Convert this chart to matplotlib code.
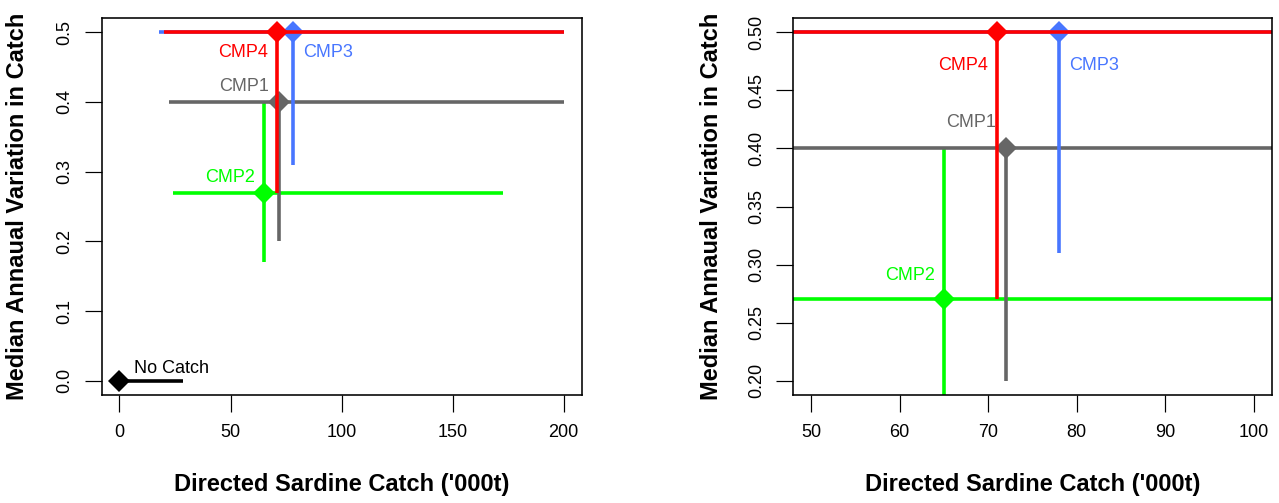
import matplotlib
matplotlib.use("Agg")
import matplotlib.pyplot as plt

plt.rcParams['font.family'] = ['Liberation Sans', 'DejaVu Sans']

# ---- data ----
cmp_names = ['CMP1', 'CMP2', 'CMP3', 'CMP4']
catch_med = [72, 65, 78, 71]
catch_lo = [22.5, 24.0, 17.6, 20.2]
catch_hi = [200.0, 172.7, 200.0, 200.0]
aav_med = [0.40, 0.27, 0.50, 0.50]
aav_lo = [0.20, 0.17, 0.31, 0.27]
aav_hi = [0.40, 0.40, 0.50, 0.50]

nocatch_label = 'No Catch'
nocatch_catch = [0.0]
nocatch_aav = [0.0]
nocatch_catch_hi = [28.8]

left_xticks = [0, 50, 100, 150, 200]
left_yticks = [0.0, 0.1, 0.2, 0.3, 0.4, 0.5]
left_yticklabels = ['0.0', '0.1', '0.2', '0.3', '0.4', '0.5']
right_xticks = [50, 60, 70, 80, 90, 100]
right_yticks = [0.20, 0.25, 0.30, 0.35, 0.40, 0.45, 0.50]
right_yticklabels = ['0.20', '0.25', '0.30', '0.35', '0.40', '0.45', '0.50']

xlabel = "Directed Sardine Catch ('000t)"
ylabel = "Median Annaual Variation in Catch"

# ---- styles ----
colors = {'CMP1': '#666666', 'CMP2': '#00FF00', 'CMP3': '#4876FF', 'CMP4': '#FF0000'}
draw_order = ['CMP2', 'CMP1', 'CMP3', 'CMP4']
# label offsets: x in pixels, y in data units
lab_dx_px = {'CMP1': -35, 'CMP2': -33.5, 'CMP3': 35, 'CMP4': -34}
lab_dy = {'CMP1': 0.022, 'CMP2': 0.021, 'CMP3': -0.029, 'CMP4': -0.029}

DPI = 100
PX = 72.0 / DPI
LW = 3.6 * PX
MS = 11
FS_TICK = 13
FS_TEXT = 13
FS_LAB = 17

fig = plt.figure(figsize=(12.79, 5.03), dpi=DPI)
W, H = 1279.0, 503.0
ax1 = fig.add_axes([101.7 / W, (H - 394.7) / H, 479.8 / W, 376.4 / H])
ax2 = fig.add_axes([793.3 / W, (H - 394.7) / H, 478.4 / W, 376.4 / H])


def draw(ax, with_nocatch):
    for k, name in enumerate(draw_order):
        i = cmp_names.index(name)
        c = colors[name]
        zl = 2 + 2 * k
        ax.plot([catch_lo[i], catch_hi[i]], [aav_med[i], aav_med[i]],
                color=c, lw=LW, solid_capstyle='butt', zorder=zl)
        ax.plot([catch_med[i], catch_med[i]], [aav_lo[i], aav_hi[i]],
                color=c, lw=LW, solid_capstyle='butt', zorder=zl)
        ax.plot([catch_med[i]], [aav_med[i]], marker='D', ms=MS,
                color=c, mec=c, mew=0, zorder=zl + 1, clip_on=True)
        ax.annotate(name, xy=(catch_med[i], aav_med[i] + lab_dy[name]),
                    xytext=(lab_dx_px[name] * PX, 0), textcoords='offset points',
                    ha='center', va='center', color=c, fontsize=FS_TEXT,
                    annotation_clip=False, zorder=20)
    if with_nocatch:
        ax.plot([nocatch_catch[0], nocatch_catch_hi[0]], [nocatch_aav[0], nocatch_aav[0]],
                color='black', lw=LW, solid_capstyle='butt', zorder=12)
        ax.plot(nocatch_catch, nocatch_aav, marker='D', ms=MS, color='black',
                mew=0, zorder=13)
        ax.annotate(nocatch_label, xy=(nocatch_catch[0], nocatch_aav[0]),
                    xytext=(52 * PX, 12.3 * PX), textcoords='offset points',
                    ha='center', va='center', color='black', fontsize=FS_TEXT)


def style(ax, xticks, yticks, yticklabels, xlim, ylim):
    ax.set_xlim(*xlim)
    ax.set_ylim(*ylim)
    ax.set_xticks(xticks)
    ax.set_xticklabels([str(t) for t in xticks])
    ax.set_yticks(yticks)
    ax.set_yticklabels(yticklabels, rotation=90, va='center')
    ax.tick_params(direction='out', length=17 * PX, width=1.2 * PX,
                   labelsize=FS_TICK, color='black')
    ax.tick_params(axis='y', pad=11 * PX)
    ax.tick_params(axis='x', pad=12 * PX)
    for s in ax.spines.values():
        s.set_linewidth(1.6 * PX)
        s.set_color('black')
        s.set_zorder(30)
    ax.set_xlabel(xlabel, fontsize=FS_LAB, fontweight='bold')
    ax.set_ylabel(ylabel, fontsize=FS_LAB, fontweight='bold')
    ax.xaxis.set_label_coords(0.5, (394.7 - 484.0) / 376.4)
    ax.xaxis.label.set_va('center')
    ax.yaxis.label.set_va('center')


draw(ax1, True)
style(ax1, left_xticks, left_yticks, left_yticklabels, (-8, 208), (-0.02, 0.52))
ax1.yaxis.set_label_coords((17.5 - 101.7) / 479.8, 0.5)

draw(ax2, False)
style(ax2, right_xticks, right_yticks, right_yticklabels, (48, 102), (0.188, 0.512))
ax2.yaxis.set_label_coords((711.0 - 793.3) / 478.4, 0.5)

fig.savefig('out.png', dpi=DPI)
